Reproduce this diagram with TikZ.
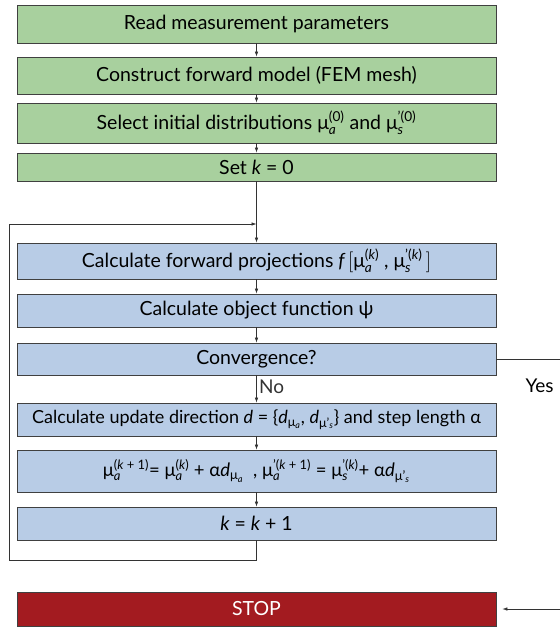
\documentclass[tikz,border=0pt]{standalone}
\usepackage{amsmath}
\usepackage{fontspec}
\setmainfont{Lato}
\usetikzlibrary{arrows.meta,positioning}
\definecolor{initgreen}{HTML}{A8D09E}
\definecolor{loopblue}{HTML}{B8CCE6}
\definecolor{stopred}{HTML}{A31B20}
\newcommand{\mmu}{\text{μ}}
\newcommand{\iv}[1]{\text{\itshape #1}}
\newcommand{\tx}[1]{\text{#1}}

\begin{document}
\begin{tikzpicture}[x=1pt,y=-1pt,>={Latex[length=5pt,width=3.5pt]},
  box/.style={draw=black!75,line width=0.8pt,minimum width=479pt,inner sep=0pt,
    font=\fontsize{19.5}{22}\selectfont},
  greenbox/.style={box,fill=initgreen},
  bluebox/.style={box,fill=loopblue},
  stopbox/.style={box,fill=stopred,text=white},
  flow/.style={line width=0.6pt,black!80},
  answer/.style={font=\fontsize{19}{22}\selectfont}]
  \useasboundingbox (0,0) rectangle (560,627);

  \node[greenbox,minimum height=38pt] (read)  at (256.5,24)  {Read measurement parameters};
  \node[greenbox,minimum height=37pt] (model) at (256.5,75.5) {Construct forward model (FEM mesh)};
  \node[greenbox,minimum height=40pt] (init)  at (256.5,123) {Select initial distributions $\mmu_{\iv{a}}^{\tx{(0)}}$ and $\mmu_{\iv{s}}^{\tx{'(0)}}$};
  \node[greenbox,minimum height=28pt] (setk)  at (256.5,167) {Set $\iv{k}$ = 0};

  \node[bluebox,minimum height=36pt] (fwd)  at (256.5,261) {Calculate forward projections $\iv{f}\,[\mmu_{\iv{a}}^{\tx{(}\iv{k}\tx{)}}\tx{ , }\mmu_{\iv{s}}^{\tx{'(}\iv{k}\tx{)}}\,]$};
  \node[bluebox,minimum height=33pt] (obj)  at (256.5,310.5) {Calculate object function ψ};
  \node[bluebox,minimum height=32pt] (conv) at (256.5,359) {Convergence?};
  \node[bluebox,minimum height=33pt,font=\fontsize{18}{21}\selectfont] (dir) at (256.5,419.5)
    {Calculate update direction $\iv{d}\tx{ = \{}\iv{d}_{\mmu_{\iv{a}}}\tx{, }\iv{d}_{\mmu\tx{'}_{\iv{s}}}\tx{\}}$ and step length α};
  \node[bluebox,minimum height=42pt,font=\fontsize{18.5}{21}\selectfont] (upd) at (256.5,471)
    {$\mmu_{\iv{a}}^{\tx{(}\iv{k}\tx{ + 1)}}\tx{= }\mmu_{\iv{a}}^{\tx{(}\iv{k}\tx{)}}\tx{ + α}\iv{d}_{\mmu_{\iv{a}}}\tx{ \ , }\mmu_{\iv{a}}^{\tx{'(}\iv{k}\tx{ + 1)}}\tx{ = }\mmu_{\iv{s}}^{\tx{'(}\iv{k}\tx{)}}\tx{+ α}\iv{d}_{\mmu\tx{'}_{\iv{s}}}$};
  \node[bluebox,minimum height=33pt] (incr) at (256.5,523.5) {$\iv{k}\tx{ = }\iv{k}\tx{ + 1}$};

  \node[stopbox,minimum height=34pt] (stop) at (256.5,609) {STOP};

  \coordinate (loopin) at (256.5,224);
  \coordinate (loopbl) at (9,560);
  \coordinate (looptl) at (9,224);
  \coordinate (yesr)   at (572,359);

  \draw[flow,->] (read) -- (model);
  \draw[flow,->] (model) -- (init);
  \draw[flow,->] (init) -- (setk);
  \draw[flow,->] (setk) -- (fwd);
  \draw[flow,->] (fwd) -- (obj);
  \draw[flow,->] (obj) -- (conv);
  \draw[flow,->] (conv) -- (dir) node[pos=0.4,right=-1pt,answer] {No};
  \draw[flow,->] (dir) -- (upd);
  \draw[flow,->] (upd) -- (incr);
  \draw[flow,->] (incr.south) |- (loopbl) -- (looptl) -- (loopin);
  \draw[flow,->,shorten >=6pt] (conv.east) -- (yesr) |- (stop.east);
  \node[answer,anchor=west] (yes) at (522,386) {Yes};
\end{tikzpicture}
\end{document}
